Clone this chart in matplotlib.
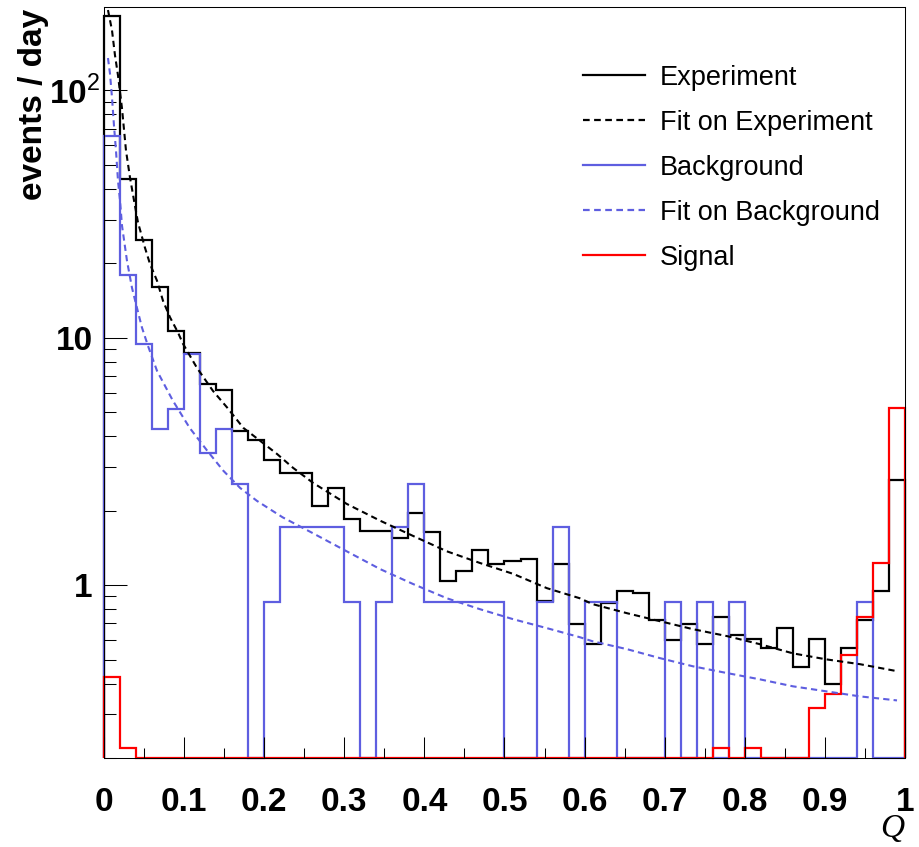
import matplotlib
matplotlib.use('Agg')

import matplotlib.pyplot as plt
from matplotlib.lines import Line2D
from matplotlib.ticker import LogLocator, MultipleLocator, NullFormatter
from matplotlib.transforms import ScaledTranslation
import numpy as np

plt.rcParams['font.family'] = ['Liberation Sans', 'DejaVu Sans']
plt.rcParams['mathtext.fontset'] = 'custom'
plt.rcParams['mathtext.rm'] = 'Liberation Sans'
plt.rcParams['mathtext.bf'] = 'Liberation Sans:bold'

BLUE = '#5e5ee0'
RED = '#ff0000'

# 50 bins of width 0.02 in Q
Q_EDGES = np.linspace(0.0, 1.0, 51)

# events / day per bin
experiment = [199, 43.6, 24.9, 16.1, 10.6, 8.7, 6.5, 6.16, 4.2, 3.86,
              3.2, 2.84, 2.84, 2.09, 2.47, 1.85, 1.65, 1.65, 1.55, 1.96,
              1.64, 1.04, 1.14, 1.39, 1.22, 1.25, 1.27, 0.86, 1.22, 0.695,
              0.577, 0.846, 0.945, 0.93, 0.72, 0.60, 0.695, 0.577, 0.74, 0.627,
              0.605, 0.556, 0.67, 0.465, 0.605, 0.397, 0.556, 0.72, 0.95, 2.66]

background = [65.1, 18.0, 9.43, 4.29, 5.14, 8.57, 3.43, 4.29, 2.57, 0,
              0.857, 1.714, 1.714, 1.714, 1.714, 0.857, 0, 0.857, 1.714, 2.571,
              0.857, 0.857, 0.857, 0.857, 0.857, 0, 0, 0.857, 1.714, 0,
              0.857, 0.857, 0, 0, 0, 0.857, 0, 0.857, 0, 0.857,
              0, 0, 0, 0, 0, 0, 0, 0.857, 0, 0]

signal = [0.424, 0.219, 0, 0, 0, 0, 0, 0, 0, 0,
          0, 0, 0, 0, 0, 0, 0, 0, 0, 0,
          0, 0, 0, 0, 0, 0, 0, 0, 0, 0,
          0, 0, 0, 0, 0, 0, 0, 0, 0.219, 0,
          0.219, 0, 0, 0, 0.318, 0.362, 0.52, 0.74, 1.23, 5.2]

# fitted curves, sampled along Q
fit_exp_q = [0.005, 0.010, 0.0137, 0.0175, 0.0225, 0.0275, 0.0325, 0.0375, 0.0424, 0.0512,
             0.0574, 0.0662, 0.0737, 0.0824, 0.0924, 0.0986, 0.116, 0.136, 0.154, 0.174,
             0.195, 0.216, 0.236, 0.261, 0.303, 0.345, 0.386, 0.428, 0.469, 0.511,
             0.553, 0.594, 0.610, 0.653, 0.694, 0.735, 0.778, 0.819, 0.860, 0.902,
             0.944, 0.990]
fit_exp_v = [211, 175, 139, 115, 84.6, 57.1, 44.4, 35.9, 29.3, 23.1,
             19.9, 17.0, 14.1, 12.1, 10.5, 9.46, 7.56, 6.10, 5.21, 4.32,
             3.83, 3.39, 2.98, 2.59, 2.13, 1.82, 1.58, 1.37, 1.23, 1.11,
             0.972, 0.885, 0.838, 0.770, 0.715, 0.664, 0.622, 0.577, 0.530, 0.501,
             0.479, 0.449]

fit_bkg_q = [0.005, 0.0075, 0.010, 0.0125, 0.015, 0.0175, 0.020, 0.0225, 0.0287, 0.035,
             0.0412, 0.0474, 0.0549, 0.0662, 0.0861, 0.107, 0.129, 0.149, 0.170, 0.191,
             0.223, 0.261, 0.303, 0.345, 0.386, 0.428, 0.469, 0.511, 0.553, 0.594,
             0.610, 0.653, 0.694, 0.735, 0.778, 0.819, 0.860, 0.902, 0.944, 0.990]
fit_bkg_v = [135, 117, 93.7, 72.1, 57.1, 43.2, 35.9, 28.4, 20.5, 15.9,
             13.2, 11.0, 9.28, 7.35, 5.56, 4.32, 3.49, 2.90, 2.47, 2.19,
             1.88, 1.62, 1.37, 1.16, 1.01, 0.885, 0.800, 0.728, 0.670, 0.616,
             0.593, 0.551, 0.507, 0.470, 0.441, 0.416, 0.390, 0.372, 0.355, 0.342]

XTICKS = [0, 0.1, 0.2, 0.3, 0.4, 0.5, 0.6, 0.7, 0.8, 0.9, 1]
XTICK_LABELS = ['0', '0.1', '0.2', '0.3', '0.4', '0.5', '0.6', '0.7', '0.8', '0.9', '1']
YTICKS = [1, 10, 100]
YTICK_LABELS = ['1', '10', r'$\mathbf{10}^{\mathrm{2}}$']

LEGEND_LABELS = ['Experiment', 'Fit on Experiment', 'Background',
                 'Fit on Background', 'Signal']

YMIN, YMAX = 0.2, 217
LW = 1.6
DASH = (0, (3, 2))


def draw_hist(ax, vals, color):
    # empty bins sit on the floor of the log axis
    v = np.maximum(np.asarray(vals, dtype=float), YMIN)
    ax.stairs(v, Q_EDGES, baseline=YMIN, color=color, lw=LW, clip_on=False)


fig = plt.figure(figsize=(9.2, 8.47), dpi=100)
ax = fig.add_axes([0.113, 0.105, 0.8707, 0.8867])

draw_hist(ax, experiment, 'black')
draw_hist(ax, background, BLUE)
draw_hist(ax, signal, RED)

ax.plot(fit_exp_q, fit_exp_v, color='black', lw=1.5, linestyle=DASH)
ax.plot(fit_bkg_q, fit_bkg_v, color=BLUE, lw=1.5, linestyle=DASH)

ax.set_yscale('log')
ax.set_xlim(0, 1)
ax.set_ylim(YMIN, YMAX)

ax.set_xticks(XTICKS, XTICK_LABELS, fontsize=24, fontweight='bold')
ax.set_yticks(YTICKS, YTICK_LABELS, fontsize=24, fontweight='bold')
ax.xaxis.set_minor_locator(MultipleLocator(0.05))
ax.yaxis.set_minor_locator(LogLocator(base=10, subs=np.arange(2, 10)))
ax.yaxis.set_minor_formatter(NullFormatter())

ax.tick_params(which='both', direction='in', top=False, right=False, width=0.75)
ax.tick_params(axis='x', which='major', length=15, pad=21)
ax.tick_params(axis='x', which='minor', length=7.5)
ax.tick_params(axis='y', which='major', length=16.5, pad=8)
ax.tick_params(axis='y', which='minor', length=8.6)
for sp in ax.spines.values():
    sp.set_linewidth(0.75)

# nudge the 10^2 label right so the exponent hangs past the others
lab = ax.get_yticklabels()[2]
lab.set_transform(lab.get_transform() + ScaledTranslation(5 / 72, 0, fig.dpi_scale_trans))

fig.text(0.036, 0.99, 'events / day', rotation=90, ha='center', va='top',
         fontsize=24, fontweight='bold')
fig.text(0.983, 0.021, 'Q', ha='right', va='center', fontsize=24,
         family='Liberation Serif', style='italic')

handles = [Line2D([], [], color='black', lw=LW),
           Line2D([], [], color='black', lw=LW, linestyle=DASH),
           Line2D([], [], color=BLUE, lw=LW),
           Line2D([], [], color=BLUE, lw=LW, linestyle=DASH),
           Line2D([], [], color=RED, lw=LW)]
ax.legend(handles, LEGEND_LABELS, loc='upper left', bbox_to_anchor=(0.5975, 0.923),
          frameon=False, fontsize=19.5, handlelength=2.3, handletextpad=0.55,
          labelspacing=0.7, borderpad=0, borderaxespad=0)

fig.savefig('out.png', dpi=100)
